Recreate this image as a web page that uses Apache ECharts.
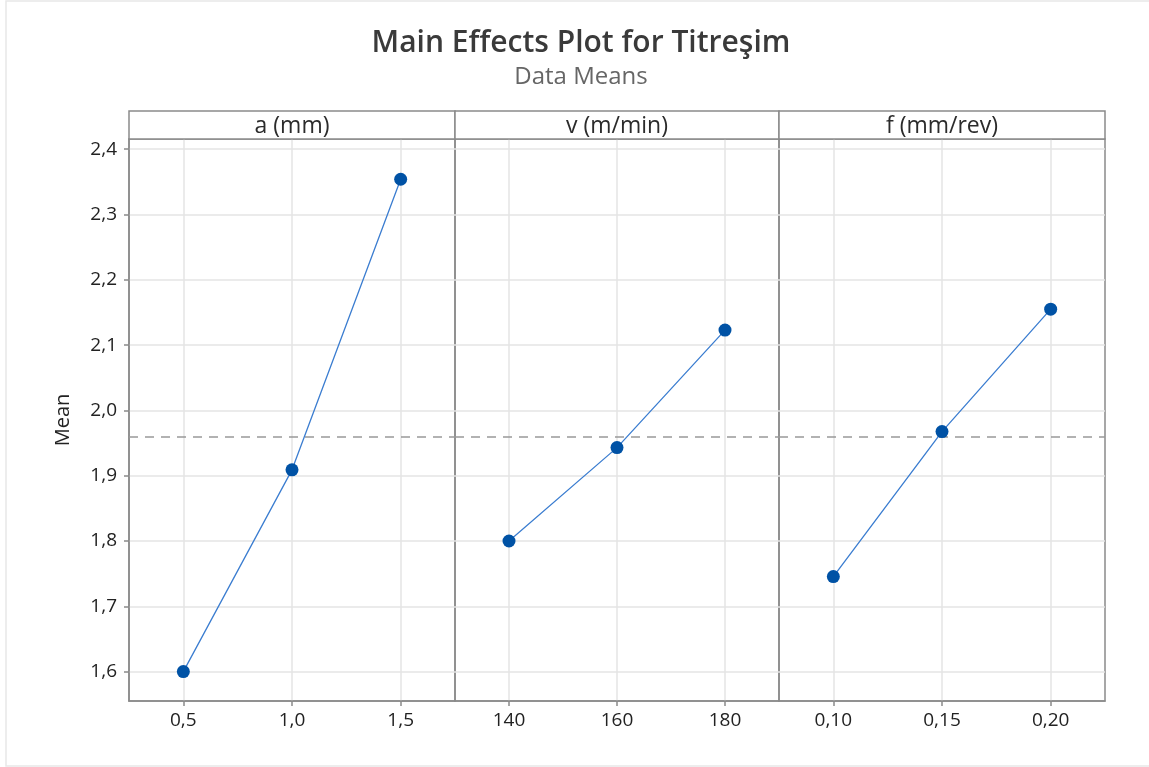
<!DOCTYPE html>
<html><head><meta charset="utf-8">
<script src="https://cdn.jsdelivr.net/npm/echarts@6.0.0/dist/echarts.min.js"></script>
<style>html,body{margin:0;padding:0;background:#fff}#c{width:1149px;height:767px}</style>
</head><body><div id="c"></div>
<script>
// ---- data ----
const titleText = 'Main Effects Plot for Titreşim';
const subtitleText = 'Data Means';
const yName = 'Mean';
const factorNames = ['a (mm)', 'v (m/min)', 'f (mm/rev)'];
const aLevels = [0.5, 1.0, 1.5];
const vLevels = [140, 160, 180];
const fLevels = [0.10, 0.15, 0.20];
const aMeans = [1.600, 1.909, 2.354];
const vMeans = [1.800, 1.943, 2.123];
const fMeans = [1.7455, 1.9675, 2.155];
const aTickLabels = ['0,5', '1,0', '1,5'];
const vTickLabels = ['140', '160', '180'];
const fTickLabels = ['0,10', '0,15', '0,20'];
const yTicks = [1.6, 1.7, 1.8, 1.9, 2.0, 2.1, 2.2, 2.3, 2.4];
const yTickLabels = ['1,6', '1,7', '1,8', '1,9', '2,0', '2,1', '2,2', '2,3', '2,4'];

// ---- layout / style ----
const FONT = 'Open Sans';
const AXIS_GRAY = '#8a8a8a';
const GRID_GRAY = '#e4e4e4';
const TEXT = '#222';
const plotTop = 139, plotBottom = 701, headerTop = 111;
const panels = [
  {left: 129, width: 326, min: 0.25, max: 1.75, levels: aLevels, means: aMeans, labels: aTickLabels},
  {left: 455, width: 324, min: 130, max: 190, levels: vLevels, means: vMeans, labels: vTickLabels},
  {left: 779, width: 326, min: 0.075, max: 0.225, levels: fLevels, means: fMeans, labels: fTickLabels}
];
const yMin = 1.555, yMax = 2.4156;

const allMeans = aMeans.concat(vMeans, fMeans);
const grandMean = allMeans.reduce((s, v) => s + v, 0) / allMeans.length;

const grids = [], xAxes = [], yAxes = [], series = [], graphics = [];
panels.forEach((p, i) => {
  grids.push({left: p.left, width: p.width, top: plotTop, height: plotBottom - plotTop,
    show: true, borderColor: AXIS_GRAY, borderWidth: 1.5, backgroundColor: 'transparent'});
  xAxes.push({type: 'value', gridIndex: i, min: p.min, max: p.max,
    axisLine: {show: true, lineStyle: {color: AXIS_GRAY, width: 1.5}},
    axisTick: {show: true, length: 5, customValues: p.levels, lineStyle: {color: AXIS_GRAY, width: 1.5}},
    axisLabel: {show: true, customValues: p.levels, margin: 10, fontFamily: FONT, fontSize: 19, color: TEXT,
      formatter: v => { const k = p.levels.findIndex(l => Math.abs(l - v) < 1e-9); return k >= 0 ? p.labels[k] : ''; }},
    splitLine: {show: true, lineStyle: {color: GRID_GRAY, width: 1.5}}
  });
  yAxes.push({type: 'value', gridIndex: i, min: yMin, max: yMax,
    name: i === 0 ? yName : '', nameLocation: 'middle', nameGap: 56, nameRotate: 90,
    nameTextStyle: {fontFamily: FONT, fontSize: 20, color: TEXT},
    axisLine: {show: i === 0, lineStyle: {color: AXIS_GRAY, width: 1.5}},
    axisTick: {show: i === 0, length: 5, customValues: yTicks, lineStyle: {color: AXIS_GRAY, width: 1.5}},
    axisLabel: {show: i === 0, customValues: yTicks, margin: 12, fontFamily: FONT, fontSize: 19, color: TEXT,
      formatter: v => { const k = yTicks.findIndex(t => Math.abs(t - v) < 1e-9); return k >= 0 ? yTickLabels[k] : ''; }},
    splitLine: {show: true, lineStyle: {color: GRID_GRAY, width: 1.5}}
  });
  series.push({type: 'line', xAxisIndex: i, yAxisIndex: i,
    data: p.levels.map((x, k) => [x, p.means[k]]),
    symbol: 'circle', symbolSize: 13,
    itemStyle: {color: '#0052a5'},
    lineStyle: {color: '#3b7dd0', width: 1.3},
    emphasis: {disabled: true}, silent: true, z: 5,
    markLine: {silent: true, symbol: 'none', label: {show: false},
      lineStyle: {color: '#999', type: [9, 7], width: 1.5},
      data: [{yAxis: grandMean}]}
  });
  graphics.push({type: 'rect', shape: {x: p.left, y: headerTop, width: p.width, height: plotTop - headerTop},
    style: {fill: '#fff', stroke: AXIS_GRAY, lineWidth: 1.5}, z: 10});
  graphics.push({type: 'text', x: p.left + p.width / 2, y: (headerTop + plotTop) / 2 + 1,
    style: {text: factorNames[i], fill: '#2b2b2b', font: '23px "' + FONT + '"', textAlign: 'center', textVerticalAlign: 'middle'}, z: 11});
});

graphics.push({type: 'text', x: 581, y: 43,
  style: {text: titleText, fill: '#3a3a3a', font: '600 30px "' + FONT + '"', textAlign: 'center', textVerticalAlign: 'middle'}, z: 11});
graphics.push({type: 'text', x: 581, y: 77,
  style: {text: subtitleText, fill: '#666', font: '24px "' + FONT + '"', textAlign: 'center', textVerticalAlign: 'middle'}, z: 11});
graphics.push({type: 'rect', shape: {x: 6, y: 1, width: 1160, height: 765},
  style: {fill: 'none', stroke: '#e8e8e8', lineWidth: 1.5}, z: 0, silent: true});

const chart = echarts.init(document.getElementById('c'), null, {renderer: 'canvas'});
chart.setOption({
  animation: false,
  backgroundColor: '#fff',
  grid: grids, xAxis: xAxes, yAxis: yAxes, series: series, graphic: graphics
});
</script></body></html>
